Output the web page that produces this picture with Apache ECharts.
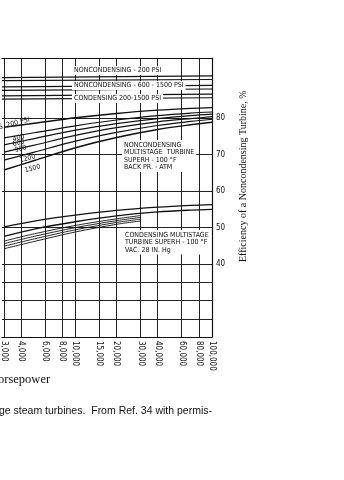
<!DOCTYPE html>
<html><head><meta charset="utf-8">
<script src="https://cdn.jsdelivr.net/npm/echarts@6/dist/echarts.min.js"></script>
<style>html,body{margin:0;padding:0;background:#fff}#c{width:344px;height:480px}</style>
</head><body><div id="c"></div>
<script>
// ---- data ----
const xTicks = [3000, 4000, 6000, 8000, 10000, 15000, 20000, 30000, 40000, 60000, 80000, 100000];
const yLabels = [40, 50, 60, 70, 80];
const yGrid = [20, 25, 30, 35, 40, 50, 60, 70, 80];
const hp = [3000, 5000, 10000, 20000, 40000, 70000, 100000];
const hpShort = [3000, 5000, 10000, 20000, 30000];
const bandHp = [2900, 100000];
// noncondensing multistage turbine, back pressure atm
const nc200 = [77.5, 78.6, 80.1, 81.3, 82.2, 82.7, 82.9];
const nc400 = [74.6, 76.0, 77.9, 79.5, 80.7, 81.4, 81.7];
const nc600 = [72.7, 74.4, 76.7, 78.5, 79.9, 80.7, 81.1];
const nc900 = [70.7, 72.6, 75.3, 77.4, 79.0, 79.9, 80.4];
const nc1200 = [68.5, 70.7, 73.7, 76.1, 78.0, 79.1, 79.7];
const nc1500 = [65.8, 68.4, 71.9, 74.7, 76.9, 78.2, 78.9];
// condensing multistage turbine, vac 28 in Hg
const c1 = [50.2, 51.8, 53.4, 54.7, 55.6, 56.1, 56.3];
const c2 = [47.6, 49.6, 51.6, 53.2, 54.3, 54.8, 55.0];
const c3 = [46.3, 48.3, 50.6, 52.4, 53.3];
const c4 = [45.6, 47.6, 50.0, 51.9, 52.8];
const c5 = [44.9, 46.9, 49.4, 51.4, 52.3];
const c6 = [44.2, 46.2, 48.8, 50.9, 51.8];
// top nearly flat lines
const tA1 = [91.1, 91.6];
const tA2 = [90.3, 90.6];
const tB1 = [88.6, 89.0];
const tB2 = [87.6, 88.0];
const tC1 = [86.1, 86.6];
const tC2 = [85.2, 85.6];

const pairs = (xs, ys) => ys.map((v, i) => [xs[i], v]);
const lineSeries = (xs, ys, w) => ({
  type: 'line', data: pairs(xs, ys), smooth: 0.3, showSymbol: false, silent: true,
  lineStyle: { color: '#111', width: w || 1.2 }
});
const narrow = '"Liberation Sans Narrow","DejaVu Sans Condensed","Arial Narrow",sans-serif';
const txt = (x, y, text, size, rot, extra) => ({
  type: 'text', x, y, rotation: rot || 0, z: 100,
  style: Object.assign({ text, fill: '#111', font: size + 'px ' + narrow }, extra || {})
});

const chart = echarts.init(document.getElementById('c'), null, { renderer: 'canvas' });
chart.setOption({
  animation: false,
  backgroundColor: '#fff',
  grid: { left: 0, right: 132, top: 58, bottom: 143, containLabel: false },
  xAxis: [{
    type: 'log', logBase: 10, min: 2900, max: 100000,
    axisLine: { show: true, lineStyle: { color: '#111', width: 1.2 } },
    axisTick: { show: false, customValues: xTicks },
    axisLabel: {
      customValues: xTicks, rotate: -90, margin: 4, color: '#111', fontSize: 8, fontFamily: narrow,
      formatter: v => Number(v).toLocaleString('en-US')
    },
    splitLine: { show: true, lineStyle: { color: '#222', width: 1 } }
  }, {
    type: 'log', logBase: 10, min: 2900, max: 100000, position: 'top',
    axisLine: { show: true, lineStyle: { color: '#111', width: 1.2 } },
    axisTick: { show: false }, axisLabel: { show: false }, splitLine: { show: false }
  }],
  yAxis: {
    type: 'value', position: 'right', min: 20, max: 96.5,
    axisLine: { show: true, lineStyle: { color: '#111', width: 1.2 } },
    axisTick: { show: false, customValues: yGrid },
    axisLabel: { customValues: yLabels, margin: 4, color: '#111', fontSize: 8, fontFamily: narrow },
    splitLine: { show: true, lineStyle: { color: '#222', width: 1 } }
  },
  series: [
    lineSeries(hp, nc200, 1.4), lineSeries(hp, nc400), lineSeries(hp, nc600),
    lineSeries(hp, nc900), lineSeries(hp, nc1200), lineSeries(hp, nc1500, 1.4),
    lineSeries(hp, c1, 1.3), lineSeries(hp, c2, 1.3),
    lineSeries(hpShort, c3, 0.9), lineSeries(hpShort, c4, 0.9),
    lineSeries(hpShort, c5, 0.9), lineSeries(hpShort, c6, 0.9),
    lineSeries(bandHp, tA1), lineSeries(bandHp, tA2), lineSeries(bandHp, tB1),
    lineSeries(bandHp, tB2), lineSeries(bandHp, tC1), lineSeries(bandHp, tC2)
  ],
  graphic: [
    txt(72, 66, 'NONCONDENSING - 200 PSI', 7, 0, { backgroundColor: '#fff', padding: [1, 2] }),
    txt(72, 81, 'NONCONDENSING - 600 - 1500 PSI', 7, 0, { backgroundColor: '#fff', padding: [1, 2] }),
    txt(72, 94, 'CONDENSING 200-1500 PSI', 7, 0, { backgroundColor: '#fff', padding: [1, 2] }),
    txt(-2, 124, 'S, 200 PSI', 7, 0.25),
    txt(12, 136, '400', 7, 0.25),
    txt(12, 141, '600', 7, 0.25),
    txt(14, 147, '900', 7, 0.25),
    txt(19, 157, '1200', 7, 0.25),
    txt(24, 167, '1500', 7, 0.25),
    txt(122, 140, 'NONCONDENSING\nMULTISTAGE  TURBINE\nSUPERH - 100 °F\nBACK PR. - ATM', 7, 0,
      { backgroundColor: '#fff', padding: [1, 2], lineHeight: 7.5 }),
    txt(123, 230, 'CONDENSING MULTISTAGE\nTURBINE SUPERH - 100 °F\nVAC. 28 IN. Hg', 7, 0,
      { backgroundColor: '#fff', padding: [1, 2], lineHeight: 7.5 }),
    { type: 'text', x: 238, y: 262, rotation: Math.PI / 2, z: 100,
      style: { text: 'Efficiency of a Noncondensing Turbine, %', fill: '#111',
        font: '10px "Liberation Serif","Times New Roman",serif' } },
    { type: 'text', x: -11, y: 373, z: 100,
      style: { text: 'Horsepower', fill: '#111', font: '12.5px "Liberation Serif","Times New Roman",serif' } },
    { type: 'text', x: -1, y: 406, z: 100,
      style: { text: 'ge steam turbines.  From Ref. 34 with permis-', fill: '#111',
        font: '10.5px "Liberation Sans",Arial,sans-serif' } }
  ]
});
</script></body></html>
